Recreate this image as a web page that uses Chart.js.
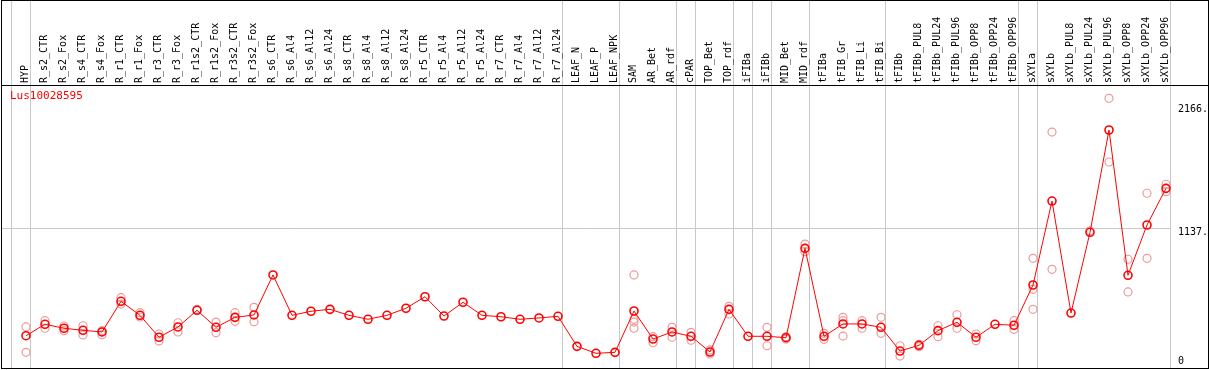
<!DOCTYPE html>
<html><head><meta charset="utf-8">
<script src="https://cdn.jsdelivr.net/npm/chart.js@4.4.1/dist/chart.umd.min.js"></script>
<style>html,body{margin:0;padding:0;background:#fff;overflow:hidden}</style>
</head><body>
<div style="width:1209px;height:370px;position:relative"><canvas id="c" width="1209" height="370"></canvas></div>
<script>
const geneId = 'Lus10028595';
const categories = ['HYP','R_s2_CTR','R_s2_Fox','R_s4_CTR','R_s4_Fox','R_r1_CTR','R_r1_Fox','R_r3_CTR','R_r3_Fox','R_r1s2_CTR','R_r1s2_Fox','R_r3s2_CTR','R_r3s2_Fox','R_s6_CTR','R_s6_Al4','R_s6_Al12','R_s6_Al24','R_s8_CTR','R_s8_Al4','R_s8_Al12','R_s8_Al24','R_r5_CTR','R_r5_Al4','R_r5_Al12','R_r5_Al24','R_r7_CTR','R_r7_Al4','R_r7_Al12','R_r7_Al24','LEAF_N','LEAF_P','LEAF_NPK','SAM','AR_Bet','AR_rdf','cPAR','TOP_Bet','TOP_rdf','iFIBa','iFIBb','MID_Bet','MID_rdf','tFIBa','tFIB_Gr','tFIB_Li','tFIB_Bi','tFIBb','tFIBb_PUL8','tFIBb_PUL24','tFIBb_PUL96','tFIBb_OPP8','tFIBb_OPP24','tFIBb_OPP96','sXYLa','sXYLb','sXYLb_PUL8','sXYLb_PUL24','sXYLb_PUL96','sXYLb_OPP8','sXYLb_OPP24','sXYLb_OPP96'];
const means = [243,338,305,288,274,530,413,230,316,455,313,396,416,750,413,447,463,413,380,413,472,568,407,522,413,401,380,391,405,154,96,104,449,215,274,238,107,463,238,238,226,972,238,341,341,313,115,163,285,355,230,338,330,666,1367,432,1106,1960,747,1167,1473];
const repA = [316,368,324,326,285,560,435,257,351,463,357,435,480,null,null,null,null,null,null,null,null,null,null,null,null,null,null,null,null,null,null,null,750,235,313,271,124,488,null,313,235,1008,263,396,368,396,159,171,326,418,257,null,368,889,1943,null,1119,2224,881,1432,1507];
const repB = [104,305,285,249,251,507,399,199,274,null,268,363,360,null,null,null,null,null,null,null,null,null,null,null,null,null,null,null,null,null,null,null,305,184,230,205,90,424,null,159,215,944,213,240,305,263,73,151,235,305,201,null,296,463,797,null,null,1693,608,889,1445];
const repC = [null,null,null,null,null,null,null,null,null,null,null,null,null,null,null,null,null,null,null,null,null,null,null,null,null,null,null,null,null,null,null,null,380,null,null,null,null,null,null,null,null,null,null,368,null,null,null,null,null,null,null,null,null,630,null,null,null,null,null,null,null];
const repD = [null,null,null,null,null,null,null,null,null,null,null,null,null,null,null,null,null,null,null,null,null,null,null,null,null,null,null,null,null,null,null,null,357,null,null,null,null,null,null,null,null,null,null,null,null,null,null,null,null,null,null,null,null,null,null,null,null,null,null,null,null];
const yTickValues = [0, 1137, 2166];
const yTickLabels = ['0', '1137.', '2166.'];
const yGridValue = 1137;
const groupEnds = [-1, 0, 28, 31, 34, 35, 37, 38, 39, 41, 45, 52, 53, 60];

const XMIN = -24/19, XMAX = -24/19 + 1169/19;
const YMIN = -26.7, YMAX = 2335.6;
const FONT = {family: 'DejaVu Sans Mono', size: 10, lineHeight: 1.4};

const meanPts = means.map((v, i) => ({x: i, y: v}));
const repPts = [];
[repA, repB, repC, repD].forEach(arr => arr.forEach((v, i) => { if (v !== null) repPts.push({x: i, y: v}); }));

const noPad = s => { s.paddingLeft = 0; s.paddingRight = 0; s.paddingTop = 0; s.paddingBottom = 0; };

const framePlugin = {
  id: 'frame',
  afterDraw(chart) {
    const ctx = chart.ctx;
    ctx.save();
    ctx.strokeStyle = '#000';
    ctx.lineWidth = 1;
    ctx.strokeRect(1.5, 0.5, 1207, 368);
    ctx.beginPath();
    ctx.moveTo(1, 85.5); ctx.lineTo(1209, 85.5);
    ctx.stroke();
    ctx.fillStyle = '#ff0000';
    ctx.font = '11px "DejaVu Sans Mono"';
    ctx.textBaseline = 'middle';
    ctx.textAlign = 'left';
    ctx.fillText(geneId, chart.chartArea.left + 8, chart.chartArea.top + 11);
    ctx.restore();
  }
};

new Chart(document.getElementById('c'), {
  type: 'line',
  data: {
    datasets: [
      {label: 'mean', data: meanPts, borderColor: '#ff0000', borderWidth: 1, tension: 0,
       pointRadius: 4, pointBorderColor: '#ff0000', pointBorderWidth: 1.6, pointBackgroundColor: 'rgba(0,0,0,0)',
       xAxisID: 'x', yAxisID: 'y', order: 0},
      {label: 'replicates', data: repPts, showLine: false, borderColor: '#ee9a9a',
       pointRadius: 4, pointBorderColor: '#ee9a9a', pointBorderWidth: 1.2, pointBackgroundColor: 'rgba(0,0,0,0)',
       xAxisID: 'x', yAxisID: 'y', order: 1}
    ]
  },
  options: {
    responsive: false,
    animation: false,
    devicePixelRatio: 1,
    layout: {autoPadding: false, padding: {left: 2, right: 0, top: 0, bottom: 2}},
    plugins: {legend: {display: false}, tooltip: {enabled: false}},
    scales: {
      x: {
        type: 'linear', position: 'top', min: XMIN, max: XMAX, weight: 1,
        afterBuildTicks: s => { s.ticks = categories.map((_, i) => ({value: i})); },
        afterFit: s => { s.height = 85; noPad(s); },
        ticks: {autoSkip: false, minRotation: 90, maxRotation: 90, padding: 2, labelOffset: 11, color: '#000',
                font: {family: 'DejaVu Sans Mono', size: 10},
                callback: v => categories[v] !== undefined ? categories[v] : ''},
        grid: {display: false, drawTicks: false},
        border: {display: false}
      },
      xg: {
        type: 'linear', position: 'top', min: XMIN, max: XMAX, weight: 0,
        afterBuildTicks: s => { s.ticks = groupEnds.map(g => ({value: g + 0.22})); },
        afterFit: s => { s.height = 0; noPad(s); },
        ticks: {display: false},
        grid: {color: '#c8c8c8', lineWidth: 1, drawTicks: true, tickLength: 85},
        border: {display: false}
      },
      y: {
        type: 'linear', position: 'right', min: YMIN, max: YMAX,
        afterBuildTicks: s => { s.ticks = yTickValues.map(v => ({value: v})); },
        afterFit: s => { s.width = 38; noPad(s); },
        ticks: {padding: 7, labelOffset: 4, color: '#000', font: FONT,
                callback: v => v === 0 ? [yTickLabels[0], ''] : yTickLabels[yTickValues.indexOf(v)]},
        grid: {color: c => (c.tick && c.tick.value === yGridValue) ? '#c8c8c8' : 'rgba(0,0,0,0)', lineWidth: 1, drawTicks: false},
        border: {display: false}
      }
    }
  },
  plugins: [framePlugin]
});
</script>
</body></html>
